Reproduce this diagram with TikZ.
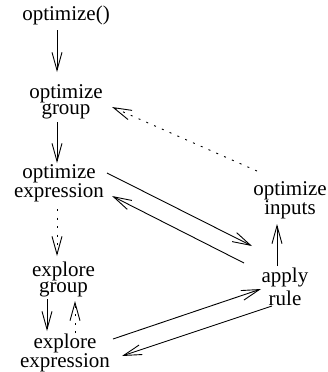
\documentclass[tikz,border=0pt]{standalone}
\usepackage{fontspec}
\setmainfont{Liberation Serif}
\usetikzlibrary{arrows.meta,calc}
\begin{document}
\begin{tikzpicture}[x=1pt,y=1pt,
  lbl/.style={inner sep=0pt,align=center,font=\fontsize{21}{16}\selectfont},
  arr/.style={line width=0.9pt,-{Straight Barb[length=18pt,width=10pt,line width=0.9pt]}},
  dotarr/.style={arr,dash pattern=on 2pt off 6.5pt}]
\useasboundingbox (0,0) rectangle (328,-372);
% nodes
\node[lbl] (opt) at (66,-15) {optimize()};
\node[lbl] (og)  at (66,-102) {optimize\\group};
\node[lbl] (oe)  at (59,-183.5) {optimize\\expression};
\node[lbl] (eg)  at (63.5,-279) {explore\\group};
\node[lbl] (ee)  at (65,-353) {explore\\expression};
\node[lbl] (oi)  at (290,-200.5) {optimize\\inputs};
\node[lbl,font=\fontsize{21}{23}\selectfont] (ar) at (285,-287) {apply\\rule};
% vertical chain
\draw[arr] ($(opt)+(-9,-15)$) -- ($(og)+(-9,30)$);
\draw[arr] ($(og)+(-9,-20)$) -- ($(oe)+(-2,20.5)$);
\draw[dotarr] ($(oe)+(-2,-25.5)$) -- ($(eg)+(-6.5,23)$);
\draw[arr] ($(eg)+(-16.5,-20)$) -- ($(ee)+(-18,22)$);
\draw[dotarr] ($(ee)+(10,20)$) -- ($(eg)+(11.5,-22)$);
% rule application
\draw[arr] ($(oe)+(48,10.5)$) -- ($(ar)+(-33,41)$);
\draw[arr] ($(ar)+(-41,24)$) -- ($(oe)+(53,-12.5)$);
\draw[arr] ($(ee)+(48,14)$) -- ($(ar)+(-24,-2)$);
\draw[arr] ($(ar)+(-13,-19)$) -- ($(ee)+(57,-3)$);
\draw[arr] ($(ar)+(-8,21)$) -- ($(oi)+(-13,-23.5)$);
\draw[dotarr] ($(oi)+(-33,29.5)$) -- ($(og)+(46,-5)$);
\end{tikzpicture}
\end{document}
